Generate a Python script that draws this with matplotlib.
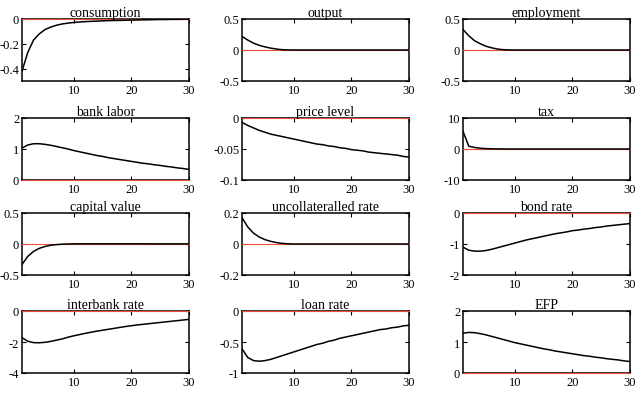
import numpy as np
import matplotlib.pyplot as plt
from matplotlib.ticker import FormatStrFormatter

plt.rcParams['font.family'] = ['Liberation Serif', 'DejaVu Serif']
plt.rcParams['axes.unicode_minus'] = False

periods = np.arange(1, 31)

titles = ['consumption', 'output', 'employment',
          'bank labor', 'price level', 'tax',
          'capital value', 'uncollateralled rate', 'bond rate',
          'interbank rate', 'loan rate', 'EFP']

consumption = [-0.42, -0.27, -0.17, -0.12, -0.085, -0.065, -0.05, -0.04, -0.033, -0.028,
               -0.024, -0.021, -0.019, -0.017, -0.015, -0.013, -0.012, -0.011, -0.01, -0.009,
               -0.008, -0.007, -0.006, -0.005, -0.004, -0.004, -0.003, -0.003, -0.002, -0.002]
output = [0.22, 0.16, 0.11, 0.075, 0.05, 0.03, 0.015, 0.005, 0.001, 0.0,
          0, 0, 0, 0, 0, 0, 0, 0, 0, 0, 0, 0, 0, 0, 0, 0, 0, 0, 0, 0]
employment = [0.33, 0.23, 0.15, 0.1, 0.06, 0.035, 0.015, 0.005, 0.001, 0.0,
              0, 0, 0, 0, 0, 0, 0, 0, 0, 0, 0, 0, 0, 0, 0, 0, 0, 0, 0, 0]
bank_labor = [1.03, 1.13, 1.17, 1.17, 1.15, 1.12, 1.08, 1.04, 1.0, 0.95,
              0.91, 0.87, 0.83, 0.79, 0.76, 0.72, 0.69, 0.66, 0.63, 0.6,
              0.57, 0.54, 0.52, 0.49, 0.47, 0.44, 0.42, 0.39, 0.37, 0.34]
price_level = [-0.007, -0.012, -0.016, -0.02, -0.023, -0.026, -0.028, -0.03, -0.032, -0.034,
               -0.036, -0.038, -0.04, -0.042, -0.043, -0.045, -0.046, -0.048, -0.049, -0.051,
               -0.052, -0.053, -0.055, -0.056, -0.057, -0.058, -0.059, -0.06, -0.062, -0.063]
tax = [5.7, 0.9, 0.5, 0.25, 0.12, 0.06, 0.03, 0.01, 0.0, 0.0,
       0, 0, 0, 0, 0, 0, 0, 0, 0, 0, 0, 0, 0, 0, 0, 0, 0, 0, 0, 0]
capital_value = [-0.33, -0.2, -0.12, -0.07, -0.04, -0.02, -0.01, -0.003, 0.0, 0.002,
                 0.003, 0.003, 0.003, 0.003, 0.003, 0.003, 0.003, 0.003, 0.003, 0.003,
                 0.003, 0.003, 0.002, 0.002, 0.002, 0.002, 0.002, 0.002, 0.002, 0.002]
uncollat_rate = [0.17, 0.11, 0.07, 0.045, 0.028, 0.017, 0.009, 0.004, 0.001, 0.0,
                 0, 0, 0, 0, 0, 0, 0, 0, 0, 0, 0, 0, 0, 0, 0, 0, 0, 0, 0, 0]
bond_rate = [-1.1, -1.2, -1.23, -1.23, -1.21, -1.17, -1.12, -1.07, -1.02, -0.97,
             -0.92, -0.87, -0.83, -0.79, -0.75, -0.71, -0.67, -0.64, -0.61, -0.57,
             -0.55, -0.52, -0.5, -0.47, -0.45, -0.42, -0.4, -0.38, -0.36, -0.34]
interbank_rate = [-1.72, -1.95, -2.04, -2.05, -2.02, -1.96, -1.88, -1.8, -1.69, -1.6,
                  -1.52, -1.44, -1.37, -1.3, -1.24, -1.18, -1.12, -1.06, -1.0, -0.95,
                  -0.9, -0.86, -0.82, -0.78, -0.74, -0.7, -0.66, -0.62, -0.58, -0.54]
loan_rate = [-0.61, -0.75, -0.8, -0.81, -0.8, -0.78, -0.75, -0.72, -0.69, -0.66,
             -0.63, -0.6, -0.57, -0.54, -0.52, -0.49, -0.47, -0.44, -0.42, -0.4,
             -0.38, -0.36, -0.34, -0.32, -0.3, -0.29, -0.27, -0.26, -0.24, -0.23]
efp = [1.28, 1.31, 1.3, 1.27, 1.23, 1.18, 1.13, 1.08, 1.03, 0.98,
       0.94, 0.9, 0.86, 0.82, 0.78, 0.75, 0.71, 0.68, 0.65, 0.62,
       0.59, 0.56, 0.54, 0.51, 0.49, 0.46, 0.44, 0.42, 0.39, 0.37]

series = [consumption, output, employment, bank_labor, price_level, tax,
          capital_value, uncollat_rate, bond_rate, interbank_rate, loan_rate, efp]

ylims = [(-0.5, 0), (-0.5, 0.5), (-0.5, 0.5),
         (0, 2), (-0.1, 0), (-10, 10),
         (-0.5, 0.5), (-0.2, 0.2), (-2, 0),
         (-4, 0), (-1, 0), (0, 2)]
yticks = [[-0.4, -0.2, 0], [-0.5, 0, 0.5], [-0.5, 0, 0.5],
          [0, 1, 2], [-0.1, -0.05, 0], [-10, 0, 10],
          [-0.5, 0, 0.5], [-0.2, 0, 0.2], [-2, -1, 0],
          [-4, -2, 0], [-1, -0.5, 0], [0, 1, 2]]

W, H = 642, 410
fig = plt.figure(figsize=(W / 100, H / 100), dpi=100)

col_left = [22, 242, 463]
row_top = [20, 119, 214, 312]
aw, ah = 167, 62

for i, (name, y) in enumerate(zip(titles, series)):
    r, c = divmod(i, 3)
    ax = fig.add_axes([col_left[c] / W, 1 - (row_top[r] + ah) / H, aw / W, ah / H])
    ax.plot(periods, np.zeros(len(periods)), color='#e8503c', lw=0.8, zorder=3, clip_on=False)
    ax.plot(periods, y, color='black', lw=1.1, zorder=4)
    ax.set_xlim(1, 30)
    ax.set_ylim(*ylims[i])
    ax.set_xticks([10, 20, 30])
    ax.set_yticks(yticks[i])
    ax.yaxis.set_major_formatter(FormatStrFormatter('%g'))
    ax.tick_params(direction='in', top=True, right=True, length=3, width=0.8,
                   labelsize=9, pad=2)
    for s in ax.spines.values():
        s.set_linewidth(1.1)
    ax.set_title(name, fontsize=10, pad=2)

fig.savefig('out.png', dpi=100)
